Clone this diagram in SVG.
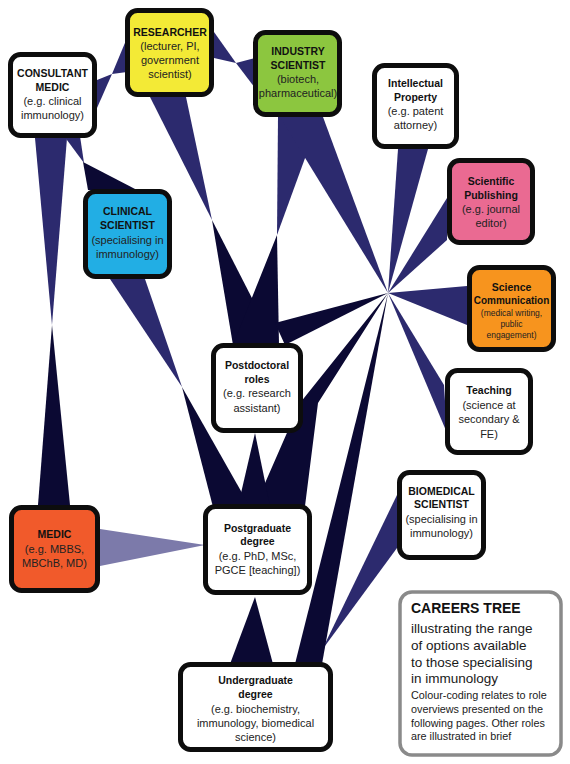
<svg xmlns="http://www.w3.org/2000/svg" width="570" height="764" viewBox="0 0 570 764">
<style>
.lt{fill:#2c2a6e}
.dk{fill:#0b0933}
.lv{fill:#7c7aaa}
.box{stroke:#0d0d0d;stroke-width:5}
.t{font-family:"Liberation Sans",Arial,sans-serif;font-weight:bold;font-size:10.5px;fill:#111;text-anchor:middle}
.s{font-family:"Liberation Sans",Arial,sans-serif;font-size:11px;fill:#222;text-anchor:middle}
.ss{font-family:"Liberation Sans",Arial,sans-serif;font-size:8.5px;fill:#222;text-anchor:middle}
.ct{font-family:"Liberation Sans",Arial,sans-serif;font-weight:bold;font-size:14px;fill:#111}
.cm{font-family:"Liberation Sans",Arial,sans-serif;font-size:13.5px;fill:#1a1a1a}
.cs{font-family:"Liberation Sans",Arial,sans-serif;font-size:10.8px;fill:#1a1a1a}
</style>
<rect width="570" height="764" fill="#ffffff"/>
<g id="connectors">
<polygon class="lt" points="35,138 67,138 52,325"/>
<polygon class="lt" points="64,136 80,136 84,163"/>
<polygon class="lt" points="97,80 97,108 112,74"/>
<polygon class="lt" points="112,74 127,38 127,72"/>
<polygon class="lt" points="214,32 214,58 236,63"/>
<polygon class="lt" points="236,63 255,58 255,88"/>
<polygon class="lt" points="150,97 186,97 212,220"/>
<polygon class="lt" points="278,117 320,117 277,235"/>
<polygon class="lt" points="280,117 323,117 388,293"/>
<polygon class="lt" points="110,279 145,279 182,387"/>
<polygon class="lt" points="398,149 428,149 388,293"/>
<polygon class="lt" points="447,198 447,240 388,293"/>
<polygon class="lt" points="467,286 467,325 388,293"/>
<polygon class="lt" points="444,385 447,433 388,293"/>
<polygon class="lt" points="397,495 397,548 322,650"/>
<polygon class="dk" points="52,325 38,505 70,505"/>
<polygon class="dk" points="83,162 88,190 137,190"/>
<polygon class="dk" points="212,220 233,345 276,345"/>
<polygon class="dk" points="277,235 233,345 279,345"/>
<polygon class="dk" points="388,293 275,323 285,345"/>
<polygon class="dk" points="388,293 300,403 262,490 262,506 305,506 318,403"/>
<polygon class="dk" points="388,293 295,664 322,664"/>
<polygon class="dk" points="255,433 238,506 270,506"/>
<polygon class="dk" points="182,387 213,507 250,507"/>
<polygon class="dk" points="255,597 230,664 273,664"/>
<polygon class="lv" points="100,529 100,566 205,545"/>
</g>
<g id="consultant">
<rect class="box" x="10.5" y="54.5" width="84" height="81" rx="10" fill="#ffffff"/>
<text class="t" x="52.5" y="77">CONSULTANT</text>
<text class="t" x="52.5" y="91">MEDIC</text>
<text class="s" x="52.5" y="105">(e.g. clinical</text>
<text class="s" x="52.5" y="119">immunology)</text>
</g>
<g id="researcher">
<rect class="box" x="127.5" y="10.5" width="84" height="84" rx="10" fill="#f3ea36"/>
<text class="t" x="170" y="36">RESEARCHER</text>
<text class="s" x="170" y="50">(lecturer, PI,</text>
<text class="s" x="170" y="64">government</text>
<text class="s" x="170" y="78">scientist)</text>
</g>
<g id="industry">
<rect class="box" x="255.5" y="32.5" width="84" height="82" rx="10" fill="#8cc63f"/>
<text class="t" x="298" y="55">INDUSTRY</text>
<text class="t" x="298" y="69">SCIENTIST</text>
<text class="s" x="298" y="83">(biotech,</text>
<text class="s" x="298" y="97">pharmaceutical)</text>
</g>
<g id="ip">
<rect class="box" x="374.5" y="65.5" width="82" height="81" rx="10" fill="#ffffff"/>
<text class="t" x="415.5" y="87">Intellectual</text>
<text class="t" x="415.5" y="101">Property</text>
<text class="s" x="415.5" y="115">(e.g. patent</text>
<text class="s" x="415.5" y="129">attorney)</text>
</g>
<g id="publishing">
<rect class="box" x="449.5" y="160.5" width="83" height="82" rx="10" fill="#ea6a92"/>
<text class="t" x="491" y="185">Scientific</text>
<text class="t" x="491" y="199">Publishing</text>
<text class="s" x="491" y="213">(e.g. journal</text>
<text class="s" x="491" y="227">editor)</text>
</g>
<g id="scicomm">
<rect class="box" x="469.5" y="267.5" width="84" height="82" rx="10" fill="#f7941e"/>
<text class="t" x="511.5" y="291">Science</text>
<text class="t" x="511.5" y="304" style="font-size:10px">Communication</text>
<text class="ss" x="511.5" y="316">(medical writing,</text>
<text class="ss" x="511.5" y="327">public</text>
<text class="ss" x="511.5" y="338">engagement)</text>
</g>
<g id="teaching">
<rect class="box" x="447.5" y="370.5" width="83" height="82" rx="10" fill="#ffffff"/>
<text class="t" x="489" y="394">Teaching</text>
<text class="s" x="489" y="409">(science at</text>
<text class="s" x="489" y="423">secondary &amp;</text>
<text class="s" x="489" y="438">FE)</text>
</g>
<g id="clinical">
<rect class="box" x="85.5" y="191.5" width="84" height="85" rx="10" fill="#22aee4"/>
<text class="t" x="127.5" y="215">CLINICAL</text>
<text class="t" x="127.5" y="229">SCIENTIST</text>
<text class="s" x="127.5" y="244">(specialising in</text>
<text class="s" x="127.5" y="258">immunology)</text>
</g>
<g id="postdoc">
<rect class="box" x="213.5" y="345.5" width="87" height="85" rx="10" fill="#ffffff"/>
<text class="t" x="257" y="369">Postdoctoral</text>
<text class="t" x="257" y="383">roles</text>
<text class="s" x="257" y="397">(e.g. research</text>
<text class="s" x="257" y="412">assistant)</text>
</g>
<g id="medic">
<rect class="box" x="11.5" y="507.5" width="86" height="83" rx="10" fill="#f15a2b"/>
<text class="t" x="54.5" y="538">MEDIC</text>
<text class="s" x="54.5" y="553">(e.g. MBBS,</text>
<text class="s" x="54.5" y="567">MBChB, MD)</text>
</g>
<g id="postgrad">
<rect class="box" x="205.5" y="506.5" width="104" height="86" rx="10" fill="#ffffff"/>
<text class="t" x="257.5" y="532">Postgraduate</text>
<text class="t" x="257.5" y="545">degree</text>
<text class="s" x="257.5" y="560">(e.g. PhD, MSc,</text>
<text class="s" x="257.5" y="574">PGCE [teaching])</text>
</g>
<g id="undergrad">
<rect class="box" x="180.5" y="664.5" width="150" height="85" rx="10" fill="#ffffff"/>
<text class="t" x="255.5" y="684">Undergraduate</text>
<text class="t" x="255.5" y="698">degree</text>
<text class="s" x="255.5" y="713">(e.g. biochemistry,</text>
<text class="s" x="255.5" y="727">immunology, biomedical</text>
<text class="s" x="255.5" y="741">science)</text>
</g>
<g id="biomedical">
<rect class="box" x="399.5" y="472.5" width="84" height="85" rx="10" fill="#ffffff"/>
<text class="t" x="441.5" y="495">BIOMEDICAL</text>
<text class="t" x="441.5" y="508">SCIENTIST</text>
<text class="s" x="441.5" y="523">(specialising in</text>
<text class="s" x="441.5" y="537">immunology)</text>
</g>
<g id="legend">
<rect x="400" y="592" width="161" height="163" rx="12" fill="#ffffff" stroke="#8a8a8a" stroke-width="3.5"/>
<text class="ct" x="411" y="613">CAREERS TREE</text>
<text class="cm" x="411" y="633">illustrating the range</text>
<text class="cm" x="411" y="650">of options available</text>
<text class="cm" x="411" y="667">to those specialising</text>
<text class="cm" x="411" y="683">in immunology</text>
<text class="cs" x="411" y="699">Colour-coding relates to role</text>
<text class="cs" x="411" y="713">overviews presented on the</text>
<text class="cs" x="411" y="727">following pages. Other roles</text>
<text class="cs" x="411" y="740">are illustrated in brief</text>
</g>
</svg>
